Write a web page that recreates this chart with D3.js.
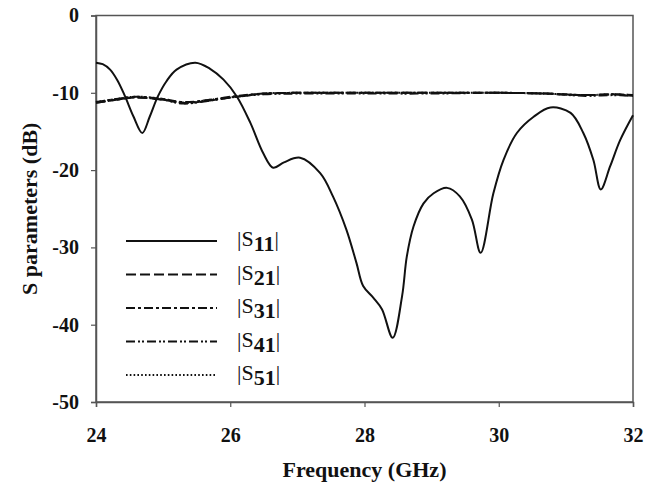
<!DOCTYPE html>
<html>
<head>
<meta charset="utf-8">
<script src="https://cdn.jsdelivr.net/npm/d3@7"></script>
<style>
  body { margin: 0; background: #fff; }
  text { font-family: "Liberation Serif", "DejaVu Serif", serif; }
</style>
</head>
<body>
<div class="chart"></div>
<script>
// DATA ------------------------------------
const xTicks = [24, 26, 28, 30, 32]
const yTicks = [0, -10, -20, -30, -40, -50]
const seriesNames = ['11', '21', '31', '41', '51']

const s11Freq = [24, 24.1, 24.21, 24.32, 24.43, 24.56, 24.69, 24.8, 24.92, 25.05, 25.2, 25.48, 25.7, 25.9, 26.1, 26.3, 26.49, 26.64, 26.8, 27.04, 27.34, 27.53, 27.73, 27.88, 27.98, 28.13, 28.26, 28.42, 28.56, 28.63, 28.73, 28.88, 29.03, 29.23, 29.42, 29.6, 29.73, 29.92, 30.07, 30.27, 30.52, 30.77, 31.07, 31.26, 31.41, 31.52, 31.66, 31.81, 32]
const s11Val = [-6.1, -6.3, -7.0, -8.4, -10.4, -13.1, -15.2, -13.1, -10.5, -8.5, -7.0, -6.1, -6.9, -8.3, -10.5, -13.9, -17.8, -19.7, -19.0, -18.4, -20.4, -23.4, -27.7, -32.0, -35.0, -36.5, -38.0, -41.7, -36.3, -31.2, -27.3, -24.3, -23.0, -22.3, -23.4, -26.4, -30.7, -23.0, -18.7, -15.2, -13.1, -11.9, -12.6, -15.2, -18.7, -22.5, -19.5, -16.1, -12.9]

const sxFreq = [24, 24.3, 24.6, 25.0, 25.3, 25.7, 26.1, 26.5, 27, 28, 29, 30, 30.7, 31.3, 31.7, 32]
const s21Val = [-11.3, -10.9, -10.6, -10.9, -11.3, -11.0, -10.5, -10.1, -10.0, -10.0, -10.0, -10.0, -10.1, -10.3, -10.2, -10.3]
const s31Val = [-11.2, -10.8, -10.5, -10.8, -11.2, -10.9, -10.4, -10.1, -10.0, -10.0, -10.0, -10.0, -10.1, -10.3, -10.2, -10.4]
const s41Val = [-11.3, -10.9, -10.6, -10.9, -11.4, -11.0, -10.5, -10.2, -10.1, -10.1, -10.1, -10.0, -10.1, -10.4, -10.3, -10.4]
const s51Val = [-11.2, -10.8, -10.5, -10.8, -11.3, -10.9, -10.5, -10.1, -10.0, -10.0, -10.0, -10.0, -10.1, -10.3, -10.2, -10.3]

// CHART INIT ------------------------------
const W = 659, H = 488
const margin = ({ top: 15.5, right: 26, bottom: 86, left: 96 })
const width = W - margin.left - margin.right
const height = H - margin.top - margin.bottom

const svg = d3.select('.chart')
    .append('svg')
    .attr('width', W)
    .attr('height', H)
const g = svg.append('g')
    .attr('transform', 'translate(' + margin.left + ',' + margin.top + ')')

const xScale = d3.scaleLinear().domain([24, 32]).range([0, width])
const yScale = d3.scaleLinear().domain([-50, 0]).range([height, 0])

const axisColor = '#555'

// frame
g.append('rect')
    .attr('x', 0).attr('y', 0)
    .attr('width', width).attr('height', height)
    .attr('fill', 'none')
    .attr('stroke', axisColor)
    .attr('stroke-width', 1.5)

const xAxis = g.append('g')
    .attr('transform', `translate(0, ${height})`)
    .call(d3.axisBottom(xScale).tickValues(xTicks).tickSize(5).tickPadding(21).tickFormat(d3.format('d')))
const yAxis = g.append('g')
    .call(d3.axisLeft(yScale).tickValues(yTicks).tickSize(5).tickPadding(12).tickFormat(d => d === 0 ? '0' : '-' + Math.abs(d)))

;[xAxis, yAxis].forEach(a => {
    a.select('.domain').attr('stroke', axisColor).attr('stroke-width', 1.5)
    a.selectAll('.tick line').attr('stroke', axisColor).attr('stroke-width', 1.2)
    a.selectAll('.tick text')
        .attr('fill', '#111')
        .style('font-family', '"Liberation Serif", serif')
        .style('font-size', '20px')
        .style('font-weight', 'bold')
})

// axis titles
svg.append('text')
    .attr('x', margin.left + width / 2)
    .attr('y', 477)
    .attr('text-anchor', 'middle')
    .attr('fill', '#111')
    .style('font-size', '22px')
    .style('font-weight', 'bold')
    .text('Frequency (GHz)')

svg.append('text')
    .attr('transform', `translate(37, ${margin.top + height / 2}) rotate(-90)`)
    .attr('text-anchor', 'middle')
    .attr('fill', '#111')
    .style('font-size', '22px')
    .style('font-weight', 'bold')
    .text('S parameters (dB)')

// LINES -----------------------------------
const dashes = [null, '10,4', '9,3,3,3', '9,3,2,2,2,3', '1.6,2.2']
const series = [
    { f: s11Freq, v: s11Val },
    { f: sxFreq, v: s21Val },
    { f: sxFreq, v: s31Val },
    { f: sxFreq, v: s41Val },
    { f: sxFreq, v: s51Val }
]

const line = d3.line()
    .x(d => xScale(d[0]))
    .y(d => yScale(d[1]))
    .curve(d3.curveCatmullRom.alpha(0.5))

const plot = g.append('g')
series.forEach((s, i) => {
    plot.append('path')
        .datum(s.f.map((f, j) => [f, s.v[j]]))
        .attr('d', line)
        .attr('fill', 'none')
        .attr('stroke', '#111')
        .attr('stroke-width', 2)
        .attr('stroke-dasharray', dashes[i])
})

// LEGEND ----------------------------------
const legend = g.append('g')
seriesNames.forEach((name, i) => {
    const y = 225.5 + i * 33.5
    legend.append('line')
        .attr('x1', 30).attr('x2', 121)
        .attr('y1', y).attr('y2', y)
        .attr('stroke', '#111')
        .attr('stroke-width', i === 0 ? 2.2 : 2)
        .attr('stroke-dasharray', dashes[i])
    const t = legend.append('text')
        .attr('x', 141)
        .attr('y', y + 5)
        .attr('fill', '#111')
        .style('font-size', '22px')
    t.append('tspan').text('|S')
    t.append('tspan').attr('dy', 5).style('font-weight', 'bold').text(name)
    t.append('tspan').attr('dy', -5).text('|')
})
</script>
</body>
</html>
